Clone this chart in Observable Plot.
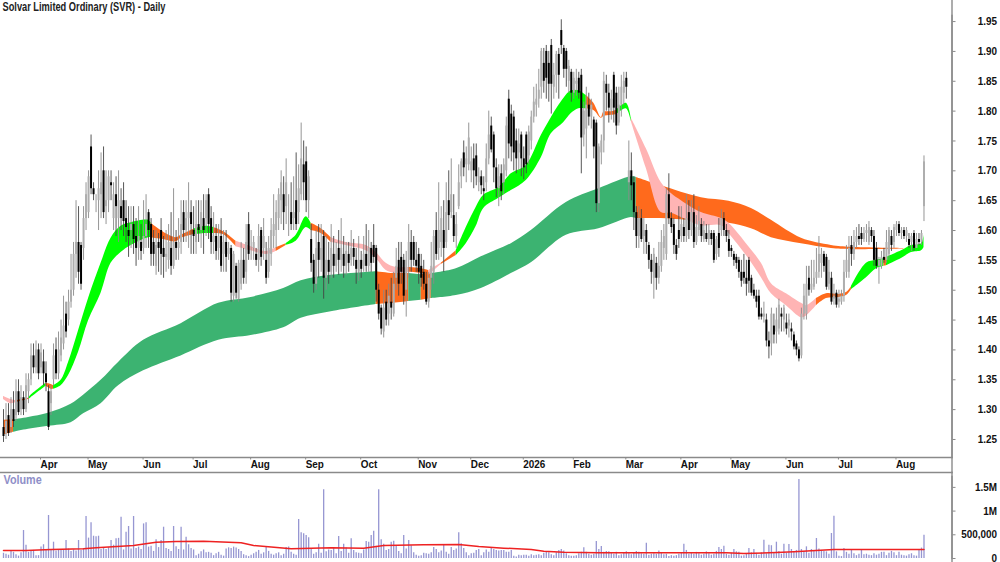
<!DOCTYPE html>
<html><head><meta charset="utf-8">
<script src="https://cdn.jsdelivr.net/npm/d3@7"></script>
<script src="https://cdn.jsdelivr.net/npm/@observablehq/plot@0.6"></script>
<style>
html,body{margin:0;padding:0;background:#fff;overflow:hidden}
#c svg{display:block;background:#fff}
</style></head><body><div id="c"></div>
<script>
const chartTitle="Solvar Limited Ordinary (SVR) - Daily";
const priceTicks=[125,130,135,140,145,150,155,160,165,170,175,180,185,190,195];
const monthIdx=[14,33,55,75,98,120,142,165,186,207,227,248,270,290,312,333,356];
const monthNames=["Apr","May","Jun","Jul","Aug","Sep","Oct","Nov","Dec","2026","Feb","Mar","Apr","May","Jun","Jul","Aug"];
const volTicks=[0,500,1000,1500];
const volTickLabels=["0","500,000","1M","1.5M"];
// prices in cents, one row per 10 sessions
const opens=[127,126,129,127,130,129,133,130,132,130,
133,135,139,137,140,137,138,136,133,131,
135,140,136,139,141,146,145,148,150,156,
158,157.5,157,162,163,174,167,165.5,165,166,
170,164,165,168,162,166,162,164,165,162,
160,160,161,159,157,158,157,159,163,161,
158,154,158,160,157,155.5,155,157,154,158,
157,158,163,160,162,163,160,158,161,160,
162,162,166,162,158,159,157,159,156,158,
156,157,149,154,148.5,151,155,153,161,157,
157,156,155,160,157,155,153,156,159,160,
162,165,166,164,162,163,162,165,163,166,
171,171.5,165,158.5,155,151,158,155,159,152,
155,153,156,154,157,155,156,154,156,155,
157,155,153,155,154,156,154,157,157.5,157,
150,147,143,148,146,148,146,152,155,155.5,
155,150,155,158,158,155,156,154,153,151,
148,152,153,160,157,158,160,158,165,163,
162.5,159,164,169,173,171,171,170,172,172.5,
168,169,167,168,172,177.5,176,170.5,167,169.5,
168,170,182,179.5,179,175,173,176,172,176,
172.5,175,179,181,182,184,188,190,188,191,
184,186,189.5,193.5,190.5,190,185,186.5,183,184.5,
185.5,186,176,177,181,179,178.5,178,164.5,173,
175,184.5,183,180,186,183,178,181,183,185.5,
168,170,168,163,159,162,159,160,157.5,155,
152,154.5,152,154,157,156,166,162,161,157.5,
160,159,160.5,159,163,160,163,158,160,161,
158.5,159.5,158.5,159.5,159.5,156,159.5,160,162,160,
158.5,157,156,155.5,155,153,153,152,155,152,
150,149,149,146,145.5,145,141.5,141,144,143,
143.5,146,145,144.5,144,143.5,142.5,141,140,139,
146,146,152,150,150.5,152,153,154.5,156,155.5,
151,152,148.5,149.5,148,148,149,153,153,157.5,
156,158,159,159.5,158.5,159.5,158,160,159,157,
154,154,155.5,155,156,159,158,160,161,159.5,
160,159,158.5,158,159.5,157,158.5,158,164];
const closes=[125.5,128,126,130,128,133,129.5,132,130,134,
135,139,137,140,136,139.5,136,134.5,127,133,
139,136,140,142,144,143,148,150,156,158,
153,151,162,166,169,167,166,165.5,167,168,
163,165,169,167.5,166,164,165,162,161.5,160.5,
159,161,158.5,157,159,156.5,159,161,160,156,
156,157.5,157,156,155.5,156,158,154,158,157,
158,161,160,162,163,161,159,161,160,163,
160,165,161,158,159,156.5,159,154,158,155.5,
157,149.5,156,149.5,154.5,155,152,158,156,157,
158,155,159,155.5,159,152,157,160,161,163,
166,168,163,168,162,161,163,161,167,172,
168,165,169,154.5,151,157,155,157,152,155,
153,157,154,156,155,157,154,156.5,154.5,157,
155.5,153.5,155,153.5,156,154,157,154.5,155.5,150,
146,143.5,147,145,149,147,151,154,151,153,
149,155,158,155,155,154,153,152,151,148,
152,154,159,156,160,162,157,163,162.5,166,
159,161,168,171.5,170.5,172,175.5,171.5,170,169,
169,167.5,166.5,172,176,173.5,170.5,167,169,166.5,
171,177.5,174.5,174,173,172,174.5,172,170.5,171,
176.5,179,181.5,182,183.5,190,185,185.5,184.5,184.5,
186,189.5,186,191,187,187,187.5,183,185.5,185,
183,175.5,180,181,179,181,174,164.5,174,175,
185,183,180.5,182,180.5,177.5,181,184,185,184,
170,167.5,163,159,162,158.5,160,158,155,153,
156,152,154,158,159,166,162,160.5,157.5,156,
158.5,161,159,162,160,163,158,160.5,161.5,159,
160,158.5,160,158.5,155,158.5,157,162,160,159,
156.5,156.5,155,154.5,153,151.5,152,151,151.5,149.5,
149,148,145.5,145.5,146,141.5,140.5,146,142.5,145,
147.5,145.5,147,143.5,145,143,140.5,140,138.5,146,
149,151,150,151,152,153,156,156,154,150.5,
153,148,149,147.5,148.5,149,153,155,157,156,
158,159,158.5,158.5,159.5,160,160.5,159,155,154,
155,155.5,155,158,160,157.5,160.5,161,159.5,160,
159,160,157.5,159,157,158.5,158,159.5,171.5];
const highs=[130,131,131,132,133,135,135,134,133,136,
136,141,141,141.5,141,141,140,138,134,134,
141,142,143,145,149,148,150,156,158,165,
164,158,164,168,170,176,168,166,170,173,
174,170,170,170,168,169,170,167,168,165,
164,164,164,162,164,161,165,166,163.5,162,
160,160,159.5,162,159,160,161,163,167,160,
162,165,165,165,168,165,164,165,165,165,
166,166,167,164,163,161,161,162,160,160,
158,157.5,156.5,154.5,155,158,157,161,163,160,
159,157,161,160.5,162,158,159,162,166,165,
167,170,169,172,166,168,169,173,171,178,
175,174,170,161,156,160,161,161,160,159,
158,161,159,158,160,162,159,158,158,160,
158.5,157,159,156.5,159,161,160,158,161,157.5,
151,147.5,150,150,151,152,153,157,158,158,
156,156.5,161,160,159,158,157,156,155,153,
153,158,160,163,168,164,165,168,170,172,
166,163,171,172,175,174,178,174,174.5,174.5,
170.5,170,169,174.5,180,179,176.5,172,171,171,
172,179,183.5,181,180,177,177,176.5,174,176.5,
177.5,180,184,184.5,187,190.5,190.5,191,190,192,
188,190,190.5,195.3,191,190.5,188.5,187,186.5,187,
186.5,187,181.5,184,183,182,179,178.5,174.5,176,
186.5,186,184.5,183.5,186.5,184,184,186,186.5,186.5,
175,173,169,164,164,163.5,162,161,158,156,
157,155.5,158,160,161,167,169.5,163,162,158.5,
164,164,162,166,165,165,166,162.5,164,162,
161.5,161,161,160,160,159,162,163.5,163,161,
160,157.5,156.5,156,155.5,155,156,155,155.5,152.5,
151,150,150,147,148,146,143,147,146,147,
148.5,147,147.5,146,146,144.5,143,141.5,140.5,147,
151,154,154,155,155,157,159,157,156.5,156,
155,153,151,150,150,150,155,157.5,159,159,
160,160.5,161,160.5,160.5,161,161.5,160.5,160,158,
155.5,156.5,157,160,160.5,160,161,161.5,161.5,160.5,
160.5,160.5,159.5,159.5,160,159.5,159.5,160,172.5];
const lows=[124.5,125,125.5,126,127,128,129,129,129,129.5,
131,134,136,136,135,136,134,133,126.5,129,
134,135,135,138,140,142,144,147,149,152,
151,150,155,160,162,166,165,163,160,162,
162,161,163,165,160,159,158,160,159,158,
155.5,157,156,154,155,155,156,157,157,154,
154,152.5,153,152.5,152,153,153.5,152.5,153.5,155,
155,156,158,158,157,156,156,156,158,157,
156,159,158.5,156,156,155,155,153,153,153,
155,148,148,148.5,148,150,151,151,155,155,
155,154,153,154,155,151,152,154,157,157,
160,161,160,161,159,160,160,160,161,165,
165,163,162,153,149.5,150,152,153,148.5,150,
151,152,152,153,152.5,153,152,152.5,153,154,
154,151,151.5,152,153,153,153,153,154.5,148,
145,142.5,142,144,144,145,145.5,150,149,151,
147.5,145.5,152,153,154,153,151,150.5,150,147.5,
147,150,151,155,155,155.5,153,157,160,162,
158,157,163.5,167,169,168,170,168,167,167.5,
166.5,166,165,166.5,171,173,168,165.5,164,165,
166,169,172,171.5,170,169.5,170,169,168.5,169.5,
171,173.5,178,179,180.5,182,183,182,181.5,179.5,
182,183,182,189.5,185.5,184,183,181.5,182,182.5,
182,169.5,174,172,177.5,177,172,163,163,171,
173,180,178,178.5,178,176,177.5,179,181,182,
165,165,160,157,157,158,156,156,153.5,151,
148.5,150,151,153,155,155,161,159.5,156,155,
157,158,158,158,158.5,159,157,157.5,159,158,
158,158,157.5,157.5,154.5,155,155.5,159,159,158,
155.5,155.5,154,153.5,152,150.5,151,149,149.5,149,
148.5,147,145,145,144.5,140.5,138.5,139,141,141,
142.5,143,143,142.5,142,141.5,140,139,138,138.5,
145,145,149,149.5,150,151,152,152,153,150,
150,147.5,147.5,147,147,147.5,148,152,152,154,
155,157,157.5,157.5,158,158,157.5,158,154,153.5,
151,153.5,154.5,154.5,155,156.5,157,159,159,158.5,
158.5,158,157,156.5,156.5,157,157.5,157.5,161.5];
// volume in thousands, one row per 10 sessions
const volumes=[110,90,70,150,130,80,50,120,590,280,
130,160,170,60,60,240,290,180,907,190,
344,160,170,190,180,380,200,150,180,160,
380,170,210,886,430,752,470,460,470,190,
210,190,230,380,280,415,425,872,180,555,
675,200,886,210,240,190,730,752,240,260,
150,394,230,380,660,210,190,150,675,250,
190,660,180,450,290,210,180,60,90,140,
180,120,130,110,60,100,130,70,50,200,
225,210,240,220,190,150,80,60,40,70,
100,130,170,90,120,230,150,90,70,100,
120,60,90,230,240,130,90,70,822,541,
520,485,436,200,90,120,300,110,1448,140,
180,170,230,100,464,150,300,220,110,415,
170,120,110,100,180,359,345,485,576,260,
1448,394,300,170,190,345,365,265,150,100,
485,200,380,270,120,70,50,60,110,100,
90,120,230,190,120,160,295,130,90,230,
170,200,541,310,210,120,60,100,110,170,
190,60,120,180,130,220,190,170,160,170,
170,130,130,170,50,30,70,60,70,70,
50,80,60,70,80,60,110,130,120,80,
60,120,170,190,160,100,60,50,50,60,
100,130,225,130,90,70,90,359,190,253,
130,150,140,110,90,130,60,80,120,140,
100,80,120,150,130,100,90,323,70,90,
100,90,160,120,80,90,40,60,50,60,
90,120,302,170,90,110,90,130,100,70,
90,140,100,70,90,150,232,190,260,90,
70,110,190,140,130,50,60,90,211,120,
190,110,70,120,387,100,281,270,110,344,
150,90,302,110,295,190,130,170,1666,190,
150,246,110,190,170,422,200,170,150,140,
90,527,893,140,50,40,210,130,90,170,
100,60,90,190,80,90,70,60,100,70,
90,130,130,60,110,150,120,60,130,70,
60,50,80,100,60,50,190,220,492];
const volAvgIdx=[0,9,19,32,37,52,61,69,80,95,100,115,131,144,152,168,182,190,200,211,216,224,238,248,262,289,296,309,316,323,332,350,368];
const volAvg=[169,169,190,204,225,274,344,359,366,330,274,204,225,218,274,288,295,253,218,190,155,134,120,120,120,120,105,127,141,162,190,190,190];
// moving-average ribbons (cents): long group
const longIdx=[0,4,10,18,27,32,39,46,56,71,86,99,112,119,131,149,156,162,167,171,181,191,203,211,225,238,251,253,263,279,290,299,307,319,331,339,360];
const longHi=[128.2,128.3,128.7,129.4,130.9,132.4,134.9,137.9,141.6,144.4,147.8,148.8,150.3,151.6,152.5,153.1,152.8,152.8,152.6,152.8,153.6,155.6,157.8,160,164.7,167,169,168.9,167.5,165.5,164.9,163.7,161.7,158.7,157.5,157.2,157];
const longLo=[125.8,126.2,126.7,127.2,127.8,129.3,131,134,136.5,139,141.6,142.4,143.7,145.3,146.4,147.6,147.8,148.1,148.3,148.6,149.1,150.3,152.8,154.6,159.2,160.3,162.2,162,162,161.5,161.2,160.3,158.8,157.8,157,156.8,156.9];
const longState="oo"+"ssssssssssssss"+"oo"+"s"+"o"+"ssssssss"+"ooooooooo";
// short group
const shortIdx=[0,3,5,10,11,17,19,20,23,26,30,34,39,43,47,51,58,59,64,69,71,76,81,84,88,93,99,105,109,113,117,121,123,127,131,137,145,149,153,157,162,167,170,175,181,185,189,192,198,203,209,215,219,224,227,230,233,236,239,240,243,245,249,251,257,263,267,271,279,287,290,297,303,307,313,319,321,325,329,334,337,339,345,349,352,353,359,363,367,368];
const shortHi=[132.2,131.7,131.5,131.9,132.4,134.4,134.2,134,134.9,137.9,143.2,148.6,154.5,158.7,160.7,161.3,161.7,161.2,159.7,158.8,159.2,160.2,160.7,160.5,159.8,158.2,157.3,156.5,157.1,157.8,159.2,162.3,161.2,160.3,158.8,158,157.5,156.3,154.5,153.8,153.8,153.6,153.3,154.5,156.6,160.5,163.9,165.9,167.2,169.5,170.9,175.9,178.9,182.1,183.4,183.4,182.6,181.3,178.9,179.8,179.9,180.1,181.3,178.8,173.7,168,166.2,165,163,162,161.2,157.8,154.5,151.1,149.4,147.8,147.4,148.6,149.4,149.3,149.6,150.6,154.5,155,155.3,155.5,156.6,157.5,157.8,159.2];
const shortLo=[131.7,131,131.2,131.7,132,133.9,133.4,133.4,134,135.7,139.6,144.9,149.5,154.5,156.3,157.5,158.8,158.8,158.5,158.1,158.7,159.3,159.5,159.5,159.3,157.3,156.6,156,156.5,157.5,158.2,160.5,160,159.5,158,157.5,156.6,155.3,153.3,152.8,153,152.8,152.5,154.3,155.8,157.8,160.7,163.7,165.4,166.7,168.4,172.2,176.2,178.1,179.6,180.4,180.4,180.1,178.8,179.1,179.3,179.4,180.4,178.2,170.4,163,162.9,162.2,160.8,160.8,159.5,155.8,152.1,149.4,147.4,145.4,145.7,147.4,148.6,148.8,149.1,150.1,152.1,153.6,154,154.1,155.3,156.3,156.6,157.1];
const shortState="pppo"+"gg"+"oo"+"gggggggggg"+"o"+"ooo"+"gg"+"oo"+"ppp"+"o"+"ggg"+"oo"+"pppppp"+"oo"+"p"+"o"+"gggggggggggg"+"ooooo"+"gg"+"pppppppppppppp"+"oooo"+"ggg"+"o"+"ggggg";
const stateKeys=["s","g","o","p"];
const stateColors=["#3CB371","#00FF00","#FF6A1C","#FFB4B4"];

// one run per unbroken colour, so that each ribbon stretch is one smooth shape
function segs(idx,hi,lo,state,tag){
  const t=[];
  let run=0;
  for(let k=1;k<idx.length;k++){
    const st=state[k];
    if(k>1 && st!==state[k-1]) run++;
    const seg=tag+run;
    if(k===1 || st!==state[k-1]) t.push({seg,i:idx[k-1],hi:hi[k-1],lo:lo[k-1],st});
    t.push({seg,i:idx[k],hi:hi[k],lo:lo[k],st});
  }
  return t;
}
const bars=opens.map((o,i)=>i);
const up=bars.filter(i=>closes[i]>=opens[i]);
const down=bars.filter(i=>closes[i]<opens[i]);
const fnt={fontFamily:"'Liberation Sans',Arial,sans-serif",background:"#fff",overflow:"visible"};
const axisGrey="#8a8a8a";
const xDomain=[-1.2,379.2];

const price=Plot.plot({
  width:1000,height:472,marginTop:0,marginBottom:15,marginLeft:0,marginRight:48.5,
  style:fnt,
  x:{domain:xDomain},
  y:{domain:[121.98,198.53]},
  color:{domain:stateKeys,range:stateColors},
  marks:[
    Plot.area(segs(longIdx,longHi,longLo,longState,"l"),{x1:"i",y1:"lo",y2:"hi",z:"seg",fill:"st",curve:"catmull-rom"}),
    Plot.area(segs(shortIdx,shortHi,shortLo,shortState,"t"),{x1:"i",y1:"lo",y2:"hi",z:"seg",fill:"st",curve:"catmull-rom"}),
    Plot.ruleX(up,{x:d=>d,y1:d=>lows[d],y2:d=>highs[d],stroke:"#8a8a8a",strokeWidth:0.9}),
    Plot.ruleX(up,{x:d=>d,y1:d=>opens[d],y2:d=>closes[d],stroke:"#aeaeae",strokeWidth:2}),
    Plot.ruleX(down,{x:d=>d,y1:d=>lows[d],y2:d=>highs[d],stroke:"#444",strokeWidth:0.9}),
    Plot.ruleX(down,{x:d=>d,y1:d=>opens[d],y2:d=>closes[d],stroke:"#000",strokeWidth:2}),
    Plot.frame({anchor:"bottom",stroke:axisGrey,strokeWidth:1.4}),
    Plot.frame({anchor:"bottom",stroke:axisGrey,strokeWidth:1.4,dy:15}),
    Plot.frame({anchor:"right",stroke:axisGrey,strokeWidth:1.4}),
    Plot.frame({anchor:"right",stroke:axisGrey,strokeWidth:1.4,dy:15}),
    Plot.axisX({anchor:"bottom",ticks:monthIdx,tickFormat:d=>monthNames[monthIdx.indexOf(d)],tickSize:2.5,tickPadding:0,textAnchor:"start",dx:2,label:null,fontSize:11,fontWeight:"bold",stroke:axisGrey,fill:"#111",className:"narrow"}),
    Plot.axisY({anchor:"right",ticks:priceTicks,tickFormat:d=>(d/100).toFixed(2),tickSize:3,tickPadding:42,textAnchor:"end",label:null,fontSize:11,fontWeight:"bold",stroke:axisGrey,fill:"#111",className:"narrow"}),
    Plot.text([chartTitle],{frameAnchor:"top-left",dx:2,dy:2,fontSize:12,fontWeight:"bold",fill:"#222",lineAnchor:"top",className:"ttl"})
  ]
});

const vol=Plot.plot({
  width:1000,height:90,marginTop:0,marginBottom:4,marginLeft:0,marginRight:48.5,
  style:fnt,
  x:{domain:xDomain,axis:null},
  y:{domain:[0,1814]},
  marks:[
    Plot.ruleX(bars,{x:d=>d,y1:0,y2:d=>volumes[d],stroke:"#9696d2",strokeWidth:1.3}),
    Plot.line(volAvgIdx,{x:d=>d,y:(d,i)=>volAvg[i],stroke:"#ee2222",strokeWidth:1.5}),
    Plot.frame({anchor:"right",stroke:axisGrey,strokeWidth:1.4}),
    Plot.frame({anchor:"right",stroke:axisGrey,strokeWidth:1.4,dy:4}),
    Plot.axisY({anchor:"right",ticks:volTicks,tickFormat:d=>volTickLabels[volTicks.indexOf(d)],tickSize:3,tickPadding:42,textAnchor:"end",label:null,fontSize:11,fontWeight:"bold",stroke:axisGrey,fill:"#111",className:"narrow"}),
    Plot.text(["Volume"],{frameAnchor:"top-left",dx:3,dy:3,fontSize:12,fontWeight:"bold",fill:"#8f8fc8",lineAnchor:"top",className:"narrow"})
  ]
});
document.getElementById("c").append(price,vol);
// The reference's bold face is set narrower than Liberation Sans Bold: squeeze it.
document.querySelectorAll("g.narrow text").forEach(t=>{
  t.setAttribute("textLength",t.getComputedTextLength()*0.9);
  t.setAttribute("lengthAdjust","spacingAndGlyphs");
});
document.querySelectorAll("g.ttl text").forEach(t=>{
  t.setAttribute("textLength",163);
  t.setAttribute("lengthAdjust","spacingAndGlyphs");
});
</script></body></html>
